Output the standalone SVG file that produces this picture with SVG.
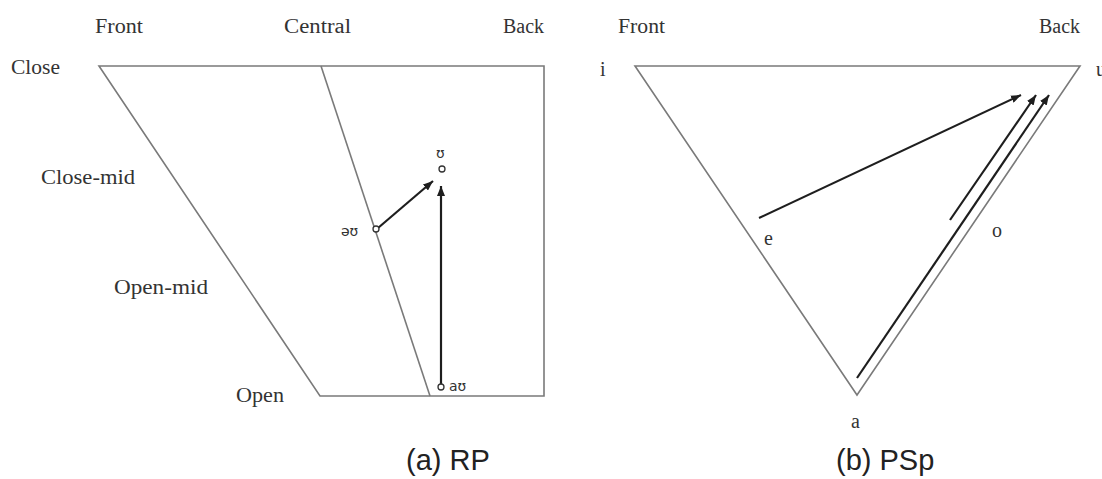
<svg xmlns="http://www.w3.org/2000/svg" width="1102" height="479" viewBox="0 0 1102 479">
<style>
.frame{fill:none;stroke:#7a7a7a;stroke-width:1.6;stroke-linejoin:miter}
.arr{fill:none;stroke:#1e1e1e;stroke-width:2.2;marker-end:url(#ah)}
.pt{fill:#fff;stroke:#333;stroke-width:1.3}
.lab{font-family:"Liberation Serif",serif;font-size:20px;fill:#333}
.ipa{font-family:"DejaVu Sans","Liberation Sans",sans-serif;font-size:14px;fill:#333}
.cap{font-family:"Liberation Sans",Arial,sans-serif;font-size:29px;fill:#222}
</style>
<defs>
<marker id="ah" viewBox="0 0 10 8" refX="10" refY="4" markerWidth="10" markerHeight="8" markerUnits="userSpaceOnUse" orient="auto">
<path d="M0,0 L10,4 L0,8 Z" fill="#1e1e1e"/>
</marker>
</defs>
<rect width="1102" height="479" fill="#fff"/>

<g id="chartA">
<path class="frame" d="M99,66 L544,66 L544,396 L320,396 Z"/>
<line class="frame" x1="321" y1="66" x2="430" y2="396"/>
</g>
<g id="labelsA">
<text class="lab" x="95" y="33" textLength="48" lengthAdjust="spacingAndGlyphs">Front</text>
<text class="lab" x="284" y="33" textLength="67" lengthAdjust="spacingAndGlyphs">Central</text>
<text class="lab" x="503" y="33" textLength="41" lengthAdjust="spacingAndGlyphs">Back</text>
<text class="lab" x="11" y="74" textLength="49" lengthAdjust="spacingAndGlyphs">Close</text>
<text class="lab" x="41" y="184" textLength="94" lengthAdjust="spacingAndGlyphs">Close-mid</text>
<text class="lab" x="114" y="294" textLength="94" lengthAdjust="spacingAndGlyphs">Open-mid</text>
<text class="lab" x="236" y="402" textLength="48" lengthAdjust="spacingAndGlyphs">Open</text>
</g>
<g id="chartB">
<path class="frame" d="M635,66 L1080,66 L857,395 Z"/>
</g>
<g id="labelsB">
<text class="lab" x="618" y="33" textLength="47" lengthAdjust="spacingAndGlyphs">Front</text>
<text class="lab" x="1039" y="33" textLength="41" lengthAdjust="spacingAndGlyphs">Back</text>
<text class="lab" x="600" y="76">i</text>
<text class="lab" x="1096" y="76">u</text>
<text class="lab" x="764" y="245">e</text>
<text class="lab" x="992" y="237">o</text>
<text class="lab" x="851" y="428">a</text>
</g>

<g id="connectors">
<line class="arr" x1="378" y1="228" x2="433" y2="181"/>
<line class="arr" x1="441" y1="384" x2="441" y2="186"/>
<line class="arr" x1="759" y1="218" x2="1021" y2="95"/>
<line class="arr" x1="950" y1="220" x2="1036" y2="95"/>
<line class="arr" x1="857" y1="378" x2="1049" y2="95"/>
</g>

<g id="pointA1"><circle class="pt" cx="376" cy="229" r="3"/><text class="ipa" x="341" y="236">əʊ</text></g>
<g id="pointA2"><circle class="pt" cx="442" cy="169" r="3"/><text class="ipa" x="436" y="158">ʊ</text></g>
<g id="pointA3"><circle class="pt" cx="441" cy="387" r="3"/><text class="ipa" x="449" y="391">aʊ</text></g>

<g id="captions">
<text class="cap" x="406" y="470">(a) RP</text>
<text class="cap" x="836" y="470">(b) PSp</text>
</g>
</svg>
